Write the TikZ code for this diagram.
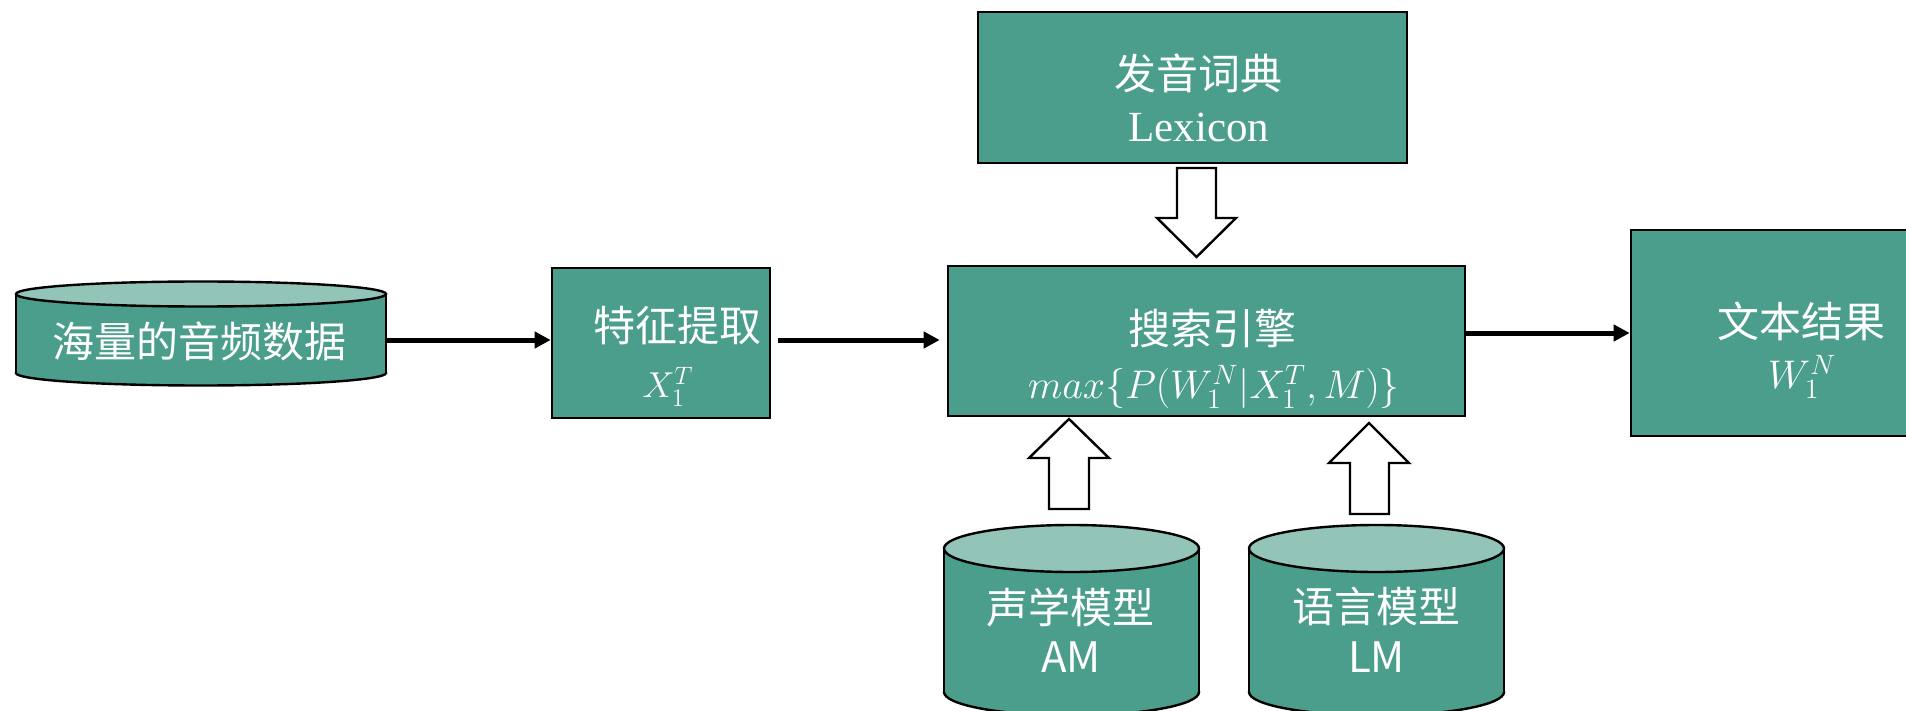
\documentclass[tikz,border=0pt]{standalone}
\usepackage{fix-cm}
\usepackage{fontspec}
\newfontfamily\cjk{Noto Sans CJK SC}
\newfontfamily\serifL{Liberation Serif}
\usetikzlibrary{arrows.meta,fit}
\definecolor{tealfill}{RGB}{74,158,139}
\definecolor{tealtop}{RGB}{146,196,184}
\tikzset{
  box/.style={draw=black, line width=1.3pt, fill=tealfill, inner sep=0pt},
  zone/.style={inner sep=0pt},
  cj/.style={text=white, font=\cjk\fontsize{21}{25}\selectfont, inner sep=0pt},
  lat/.style={text=white, font=\serifL\fontsize{21.5}{25}\selectfont, inner sep=0pt},
  mth/.style={text=white, font=\fontsize{20}{24}\selectfont, inner sep=0pt},
  arr/.style={line width=2.5pt, -{Triangle[length=8pt,width=8pt]}},
  hollow/.style={draw=black, line width=1.2pt, fill=white, line join=miter},
}
\newcommand{\drawcyl}[5]{%
  \filldraw[fill=tealfill,draw=black,line width=1.2pt] ({(#1+#2)/2},#4) ellipse [x radius={(#2-#1)/2}, y radius=#5];
  \fill[tealfill] (#1,#3) rectangle (#2,#4);
  \draw[line width=1.2pt] (#1,#3) -- (#1,#4) (#2,#3) -- (#2,#4);
  \filldraw[fill=tealtop,draw=black,line width=1.2pt] ({(#1+#2)/2},#3) ellipse [x radius={(#2-#1)/2}, y radius=#5];
}
\begin{document}
\begin{tikzpicture}[x=0.5pt, y=-0.5pt]
\useasboundingbox (0,0) rectangle (1906,711);

% boxes
\node[box, fit={(552,268)(770,418)}] (feat) {};
\node[box, fit={(978,12)(1407,163)}] (lex) {};
\node[box, fit={(948,266)(1465,416)}] (search) {};
\node[box, fit={(1631,230)(1975,436)}] (result) {};

% cylinders
\drawcyl{16}{386}{294}{373}{12.5}
\node[zone, fit={(16,282)(386,386)}] (data) {};
\drawcyl{944}{1199}{548.5}{692}{23.5}
\node[zone, fit={(944,525)(1199,715)}] (am) {};
\drawcyl{1249}{1504}{548.5}{692}{23.5}
\node[zone, fit={(1249,525)(1504,715)}] (lm) {};

% texts
\node[cj] (dataT) at (200,341) {海量的音频数据};
\node[cj] (featT) at (677,326) {特征提取};
\node[mth, font=\fontsize{18}{21}\selectfont] (featM) at (668,387) {$X_1^T$};
\node[cj] (lexT) at (1198.5,73) {发音词典};
\node[lat] (lexL) at (1199,127) {Lexicon};
\node[cj] (searchT) at (1212,329) {搜索引擎};
\node[mth] (searchM) at (1214,387) {$max\{P(W_1^N|X_1^T,M)\}$};
\node[cj] (resultT) at (1801.5,321) {文本结果};
\node[mth] (resultM) at (1802,377) {$W_1^N$};
\node[cj] (amT) at (1070,607) {声学模型};
\node[cj] (amL) at (1071,657) {AM};
\node[cj] (lmT) at (1376,606) {语言模型};
\node[cj] (lmL) at (1376.5,657) {LM};

% connectors
\draw[arr] ([yshift=-3pt]data.east) -- ([yshift=-3pt]data.east -| feat.west);
\draw[arr, shorten <=3.5pt, shorten >=3.5pt] ([yshift=1.5pt]feat.east) -- ([yshift=1.5pt]feat.east -| search.west);
\draw[arr] ([yshift=4pt]search.east) -- ([yshift=4pt]search.east -| result.west);

% hollow block arrows
\draw[hollow] (1177,168) -- (1216,168) -- (1216,218) -- (1236,218) -- (1196.5,257) -- (1157,218) -- (1177,218) -- cycle;
\draw[hollow] (1049,509) -- (1089,509) -- (1089,458) -- (1109,458) -- (1069,419) -- (1029,458) -- (1049,458) -- cycle;
\draw[hollow] (1350,514) -- (1389,514) -- (1389,463) -- (1409,463) -- (1369,423) -- (1329,463) -- (1350,463) -- cycle;
\end{tikzpicture}
\end{document}
